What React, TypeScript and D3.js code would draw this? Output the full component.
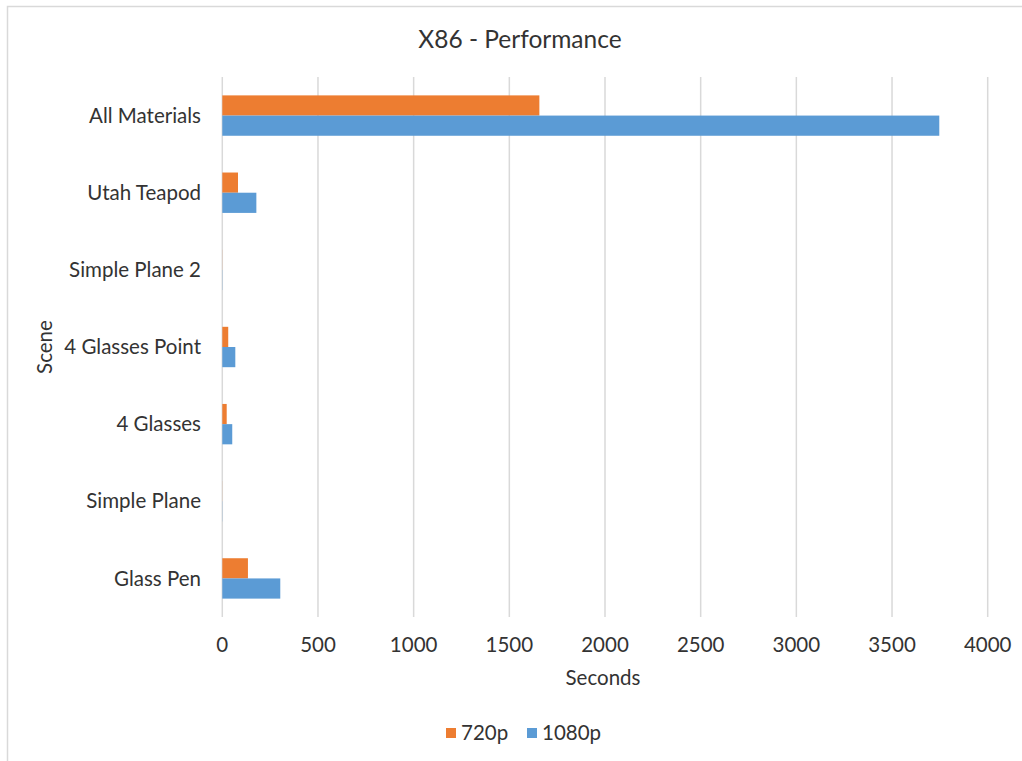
import React from "react";
import * as d3 from "d3";

// Render times per scene, in seconds
const scenes = [
  "All Materials",
  "Utah Teapod",
  "Simple Plane 2",
  "4 Glasses Point",
  "4 Glasses",
  "Simple Plane",
  "Glass Pen",
];
const series = ["720p", "1080p"];
const time720 = [1657, 82, 0.5, 31, 23, 0.4, 134];
const time1080 = [3747, 178, 1, 68, 52, 0.8, 303];
const xTicks = [0, 500, 1000, 1500, 2000, 2500, 3000, 3500, 4000];
const colors = ["#ED7D31", "#5B9BD5"];

const W = 1022;
const H = 761;
const FONT = "Lato, 'Open Sans', sans-serif";
const TEXT = "#333333";
const LABEL = 20.5;

export default function App() {
  const x = d3.scaleLinear().domain([0, 4000]).range([222.3, 987.7]);
  const y = d3
    .scaleBand<string>()
    .domain(scenes)
    .range([77, 617])
    .paddingInner(0.4765)
    .paddingOuter(0.2383);
  const inner = d3
    .scaleBand<string>()
    .domain(series)
    .range([0, y.bandwidth()]);

  const values = [time720, time1080];

  return (
    <svg
      width={W}
      height={H}
      style={{ position: "absolute", left: 0, top: 0, display: "block", background: "#fff" }}
      fontFamily={FONT}
    >
      <rect x={7.5} y={6.5} width={W + 20} height={H + 20} fill="#fff" stroke="#d9d9d9" strokeWidth={1.5} />

      <text x={520} y={48} textAnchor="middle" fontSize={24.5} fill={TEXT}>
        X86 - Performance
      </text>

      {xTicks.map((t) => (
        <line
          key={t}
          x1={x(t)}
          x2={x(t)}
          y1={77}
          y2={617}
          stroke="#d9d9d9"
          strokeWidth={1.5}
        />
      ))}

      {scenes.map((s, i) =>
        series.map((k, j) => (
          <rect
            key={s + k}
            x={x(0)}
            y={(y(s) as number) + (inner(k) as number)}
            width={x(values[j][i]) - x(0)}
            height={inner.bandwidth()}
            fill={colors[j]}
          />
        ))
      )}

      {scenes.map((s) => (
        <text
          key={s}
          x={201}
          y={(y(s) as number) + y.bandwidth() / 2}
          dy="0.35em"
          textAnchor="end"
          fontSize={LABEL}
          fill={TEXT}
        >
          {s}
        </text>
      ))}

      {xTicks.map((t) => (
        <text key={t} x={x(t)} y={652} textAnchor="middle" fontSize={LABEL} fill={TEXT}>
          {t}
        </text>
      ))}

      <text x={603} y={685} textAnchor="middle" fontSize={LABEL} fill={TEXT}>
        Seconds
      </text>
      <text
        transform={`translate(52,347) rotate(-90)`}
        textAnchor="middle"
        fontSize={LABEL}
        fill={TEXT}
      >
        Scene
      </text>

      {series.map((k, j) => {
        const lx = [446, 527][j];
        return (
          <g key={k}>
            <rect x={lx} y={728} width={10} height={10} fill={colors[j]} />
            <text x={lx + 15} y={740} fontSize={LABEL} fill={TEXT}>
              {k}
            </text>
          </g>
        );
      })}
    </svg>
  );
}
